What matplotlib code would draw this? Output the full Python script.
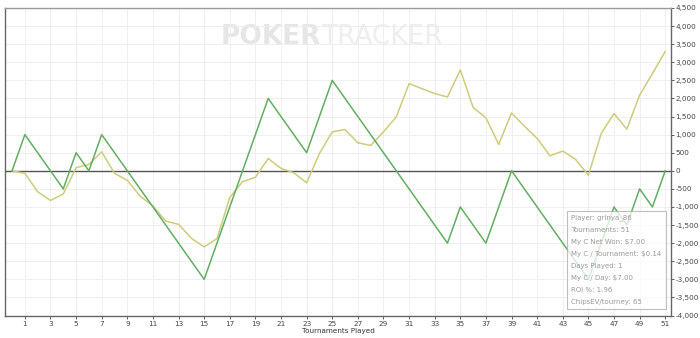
import matplotlib
matplotlib.use("Agg")
import matplotlib.pyplot as plt
from matplotlib.ticker import FuncFormatter, MultipleLocator

# tournament number 0..51
tournaments = list(range(0, 52))

# net won (green)
net_won = [0, 1000, 500, 0, -500, 500, 0, 1000, 500, 0, -500, -1000, -1500, -2000,
           -2500, -3000, -2000, -1000, 0, 1000, 2000, 1500, 1000, 500, 1500, 2500,
           2000, 1500, 1000, 500, 0, -500, -1000, -1500, -2000, -1000, -1500, -2000,
           -1000, 0, -500, -1000, -1500, -2000, -2500, -3000, -2000, -1000, -1500,
           -500, -1000, 0]

# chips EV (yellow)
chips_ev = [0, -70, -580, -820, -640, 85, 175, 525, -70, -265, -700, -975, -1390,
            -1480, -1865, -2105, -1875, -740, -300, -180, 340, 65, -55, -330, 480,
            1075, 1140, 775, 700, 1075, 1490, 2410, 2270, 2135, 2040, 2790, 1750,
            1465, 730, 1600, 1235, 895, 415, 545, 315, -120, 1030, 1585, 1150, 2090,
            2690, 3300]

stats = ["Player: grinya_86", "Tournaments: 51", "My C Net Won: $7.00",
         "My C / Tournament: $0.14", "Days Played: 1", "My C / Day: $7.00",
         "ROI %: 1.96", "ChipsEV/tourney: 65"]

fig = plt.figure(figsize=(7, 3.38), dpi=100)
ax = fig.add_axes([5 / 700, 22.5 / 338, 666 / 700, 307.5 / 338])

ax.plot(tournaments, chips_ev, color="#cfcb7c", lw=1.1, zorder=3)
ax.plot(tournaments, net_won, color="#62ad62", lw=1.1, zorder=4)
ax.axhline(0, color="#555555", lw=1.0, zorder=2)

ax.set_xlim(-0.55, 51.45)
ax.set_ylim(-4000, 4500)
ax.set_xticks(range(1, 52, 2))
ax.yaxis.set_major_locator(MultipleLocator(500))
ax.yaxis.tick_right()
ax.yaxis.set_major_formatter(FuncFormatter(lambda v, p: f"{int(v):,}"))
ax.tick_params(labelsize=5.2, colors="#444444", length=2.5, width=0.6)
ax.tick_params(axis="x", pad=1.5)
ax.tick_params(axis="y", pad=0.5)
ax.grid(True, color="#ececec", lw=0.6, zorder=0)
for s in ax.spines.values():
    s.set_color("#666666")
    s.set_linewidth(1.0)
ax.spines["top"].set_color("#999999")
fig.text(338 / 700, 1 - 331.5 / 338, "Tournaments Played", fontsize=5.2,
         color="#333333", ha="center", va="center")

# watermark
ax.text(0.475, 0.905, "POKER", transform=ax.transAxes, ha="right", va="center",
        fontsize=19, fontweight="bold", color="#e6e6e6", zorder=1)
ax.text(0.475, 0.905, "TRACKER", transform=ax.transAxes, ha="left", va="center",
        fontsize=19, color="#eeeeee", zorder=1)

# stats box
bx0, by0 = 567 / 700, (338 - 309) / 338
fig.patches.append(plt.Rectangle((bx0, by0), 99 / 700, 98 / 338, transform=fig.transFigure,
                                 facecolor="white", alpha=0.75, edgecolor="#aaaaaa",
                                 lw=0.8, zorder=5))
for i, t in enumerate(stats):
    fig.text(bx0 + 4 / 700, 1 - (217.7 + 12 * i) / 338, t, fontsize=5, color="#999999",
             va="center", ha="left", zorder=6)

fig.savefig("out.png", dpi=100)
